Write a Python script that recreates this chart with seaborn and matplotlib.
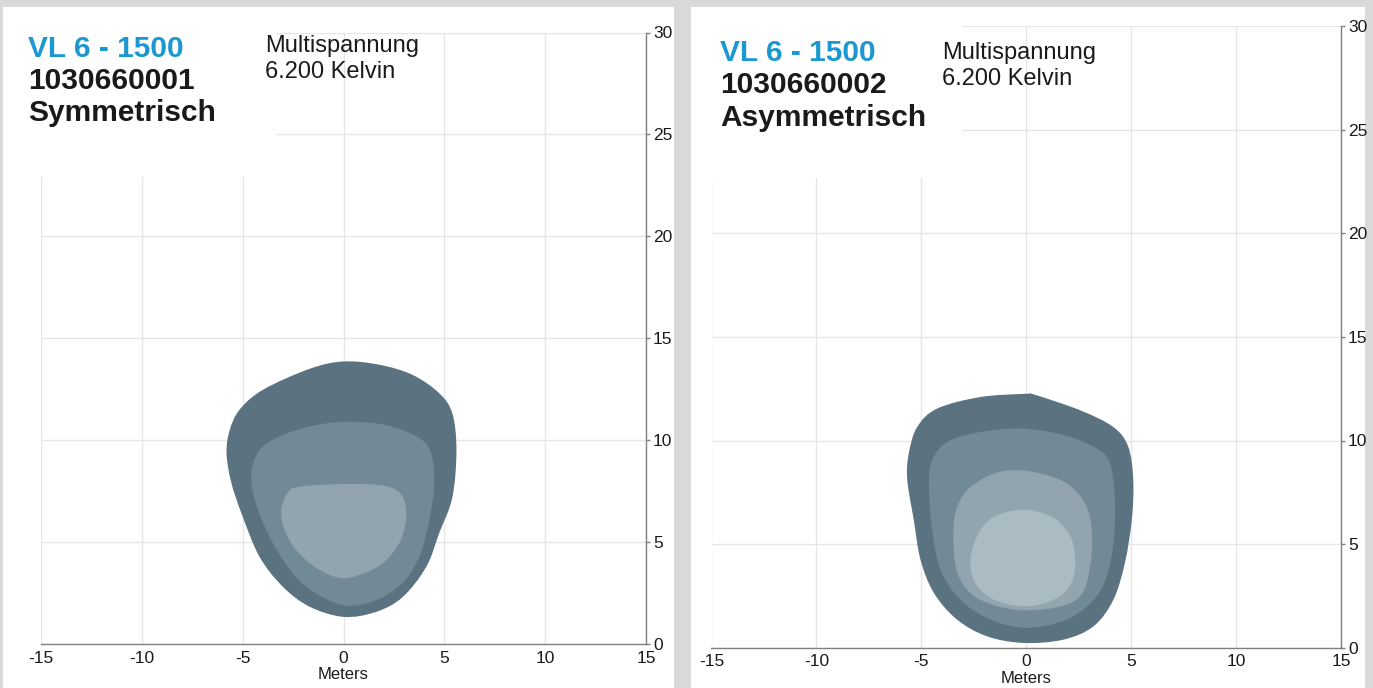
import numpy as np
import matplotlib
matplotlib.use("Agg")
import matplotlib.pyplot as plt
from matplotlib.patches import Rectangle, PathPatch
from matplotlib.path import Path
import seaborn as sns

# ---- data: isolux contours (meters) ----
sym_outer_x = [0, -1.68, -4.0, -5.15, -5.64, -5.8, -5.56, -5.0, -4.16, -3.0, -1.68, 0, 1.6, 2.93, 4.1, 4.75, 5.4, 5.6, 5.4, 4.75, 3.43, 1.78]
sym_outer_y = [13.86, 13.5, 12.47, 11.5, 10.5, 9.37, 7.9, 6.25, 4.27, 2.8, 1.83, 1.33, 1.57, 2.3, 3.78, 5.45, 7.2, 9.5, 11.3, 12.3, 13.2, 13.7]
sym_mid_x = [0, -1.68, -3.17, -4.16, -4.57, -4.4, -3.83, -3.0, -1.85, 0, 1.6, 2.93, 3.76, 4.26, 4.5, 4.34, 3.76, 2.1]
sym_mid_y = [10.9, 10.67, 10.18, 9.52, 8.38, 7.07, 5.6, 4.12, 2.8, 1.9, 2.15, 3.0, 4.28, 6.1, 7.9, 9.37, 10.1, 10.75]
sym_inner_x = [0, -2.18, -2.77, -3.08, -2.92, -2.34, -1.35, -0.2, 0.8, 1.95, 2.77, 3.1, 3.0, 2.6, 1.78]
sym_inner_y = [7.85, 7.72, 7.4, 6.58, 5.6, 4.6, 3.73, 3.24, 3.39, 3.97, 4.96, 6.1, 7.07, 7.56, 7.8]

asym_l1_x = [0.03, -2.19, -4.25, -5.2, -5.6, -5.67, -5.36, -5.04, -4.4, -3.3, -1.87, -0.13, 1.77, 3.2, 4.15, 4.7, 5.03, 5.1, 4.86, 4.15, 2.57, 0.35]
asym_l1_y = [12.26, 12.1, 11.54, 10.65, 9.37, 8.09, 6.16, 4.24, 2.63, 1.35, 0.54, 0.22, 0.38, 1.02, 2.3, 4.08, 6.16, 8.09, 9.7, 10.65, 11.46, 12.23]
asym_l2_x = [-0.29, -2.19, -3.77, -4.48, -4.64, -4.48, -4.09, -3.14, -1.71, 0.03, 1.93, 3.36, 4.0, 4.23, 4.15, 3.84, 2.89, 1.46]
asym_l2_y = [10.58, 10.41, 9.93, 9.05, 7.77, 5.68, 3.76, 2.31, 1.35, 0.95, 1.35, 2.47, 4.08, 6.16, 8.09, 9.21, 9.86, 10.34]
asym_l3_x = [-0.6, -1.71, -2.82, -3.38, -3.46, -3.22, -2.34, -0.6, 1.3, 2.57, 3.04, 3.12, 2.8, 1.93, 0.67]
asym_l3_y = [8.57, 8.33, 7.6, 6.49, 4.88, 3.43, 2.39, 1.83, 1.91, 2.47, 3.91, 5.68, 6.97, 7.93, 8.41]
asym_l4_x = [-0.37, -1.55, -2.27, -2.66, -2.43, -1.55, -0.13, 1.14, 2.01, 2.33, 2.17, 1.46, 0.51]
asym_l4_y = [6.64, 6.32, 5.52, 4.24, 3.12, 2.31, 1.99, 2.23, 2.87, 3.91, 5.2, 6.16, 6.56]

x_ticks = [-15, -10, -5, 0, 5, 10, 15]
y_ticks = [0, 5, 10, 15, 20, 25, 30]
level_colors = ["#5b7380", "#718a96", "#92a5ae", "#aabbc3"]

sns.set_style("white")
plt.rcParams["font.family"] = ["Liberation Sans", "DejaVu Sans"]
plt.rcParams["axes.unicode_minus"] = False

W, H = 1373, 688
fig = plt.figure(figsize=(W / 100, H / 100), dpi=100, facecolor="#d9d9d9")

def px_box(x0, y0, x1, y1):
    # pixel box (top-left origin) -> figure fraction [l, b, w, h]
    return [x0 / W, 1 - y1 / H, (x1 - x0) / W, (y1 - y0) / H]

def smooth_closed_path(xs, ys):
    # closed curve through the read points, drawn as cubic bezier segments
    pts = np.column_stack([xs, ys]).astype(float)
    n = len(pts)
    verts = [pts[0]]
    codes = [Path.MOVETO]
    for i in range(n):
        p0, p1, p2, p3 = pts[i - 1], pts[i], pts[(i + 1) % n], pts[(i + 2) % n]
        verts += [p1 + (p2 - p0) / 6, p2 - (p3 - p1) / 6, p2]
        codes += [Path.CURVE4] * 3
    verts.append(pts[0])
    codes.append(Path.CLOSEPOLY)
    return Path(verts, codes)

# white panels
for box in [px_box(3, 7, 674, 688), px_box(691, 7, 1365, 688)]:
    fig.patches.append(Rectangle((box[0], box[1]), box[2], box[3], transform=fig.transFigure,
                                 facecolor="white", edgecolor="none", zorder=-10))

panels = [
    dict(box=px_box(41, 32.5, 646, 644), cover=(0.388, 0.764),
         shapes=[(sym_outer_x, sym_outer_y), (sym_mid_x, sym_mid_y), (sym_inner_x, sym_inner_y)],
         title_x=28, title_y=[57, 89, 121], id="1030660001", kind="Symmetrisch",
         info_x=265, info_y=[52, 78]),
    dict(box=px_box(711.5, 26.5, 1341, 647.5), cover=(0.398, 0.756),
         shapes=[(asym_l1_x, asym_l1_y), (asym_l2_x, asym_l2_y), (asym_l3_x, asym_l3_y), (asym_l4_x, asym_l4_y)],
         title_x=720, title_y=[61, 93, 126], id="1030660002", kind="Asymmetrisch",
         info_x=942, info_y=[59, 85]),
]

for p in panels:
    ax = fig.add_axes(p["box"])
    ax.set_facecolor("none")
    ax.set_xlim(-15, 15)
    ax.set_ylim(0, 30)
    ax.set_xticks(x_ticks)
    ax.set_yticks(y_ticks)
    ax.grid(True, color="#e6e6e6", linewidth=1)
    ax.set_axisbelow(True)
    sns.despine(ax=ax, left=True, top=True, right=False, bottom=False)
    for s in ["bottom", "right"]:
        ax.spines[s].set_color("#808080")
        ax.spines[s].set_linewidth(1)
    ax.yaxis.tick_right()
    ax.tick_params(axis="both", direction="out", length=3, width=1, color="#808080",
                   labelsize=12.5, labelcolor="#1a1a1a", pad=2)
    ax.set_xlabel("Meters", fontsize=12, color="#1a1a1a", labelpad=1)

    # white area behind the heading
    ax.add_patch(Rectangle((0, p["cover"][1]), p["cover"][0], 1.02 - p["cover"][1],
                           transform=ax.transAxes, facecolor="white", edgecolor="none",
                           zorder=1.5, clip_on=False))

    for (xs, ys), col in zip(p["shapes"], level_colors):
        ax.add_patch(PathPatch(smooth_closed_path(xs, ys), facecolor=col,
                               edgecolor="none", zorder=3))

    tx = p["title_x"] / W
    fig.text(tx, 1 - p["title_y"][0] / H, "VL 6 - 1500", color="#1b98cf", fontsize=21.5,
             fontweight="bold", va="baseline")
    fig.text(tx, 1 - p["title_y"][1] / H, p["id"], color="#1a1a1a", fontsize=21.5,
             fontweight="bold", va="baseline")
    fig.text(tx, 1 - p["title_y"][2] / H, p["kind"], color="#1a1a1a", fontsize=21.5,
             fontweight="bold", va="baseline")
    fig.text(p["info_x"] / W, 1 - p["info_y"][0] / H, "Multispannung", color="#1a1a1a",
             fontsize=17, va="baseline")
    fig.text(p["info_x"] / W, 1 - p["info_y"][1] / H, "6.200 Kelvin", color="#1a1a1a",
             fontsize=17, va="baseline")

fig.savefig("out.png", dpi=100, facecolor=fig.get_facecolor())
